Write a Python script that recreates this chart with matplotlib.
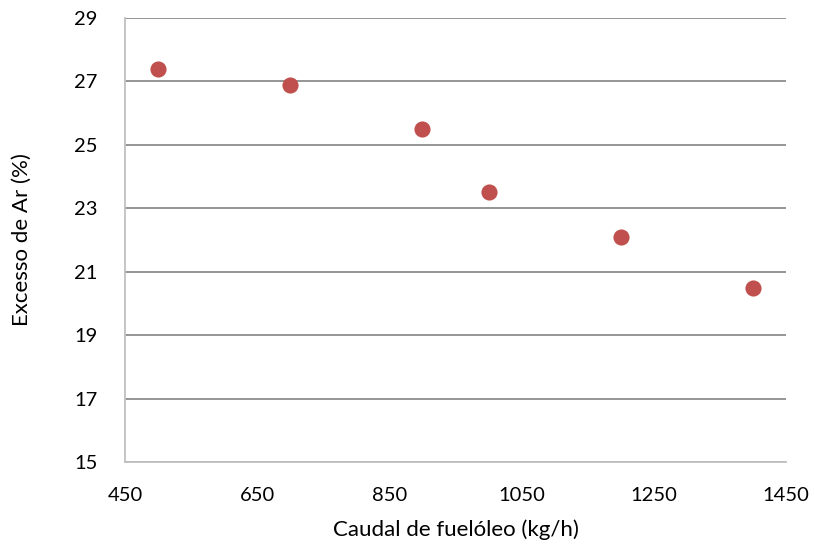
import matplotlib.pyplot as plt

plt.rcParams['font.family'] = ['Lato', 'DejaVu Sans']

# caudal de fuelóleo (kg/h) e excesso de ar (%)
caudal = [500, 700, 900, 1000, 1200, 1400]
excesso = [27.4, 26.9, 25.5, 23.5, 22.1, 20.5]

x_ticks = [450, 650, 850, 1050, 1250, 1450]
y_ticks = [15, 17, 19, 21, 23, 25, 27, 29]

fig = plt.figure(figsize=(8.14, 5.49), dpi=100)
ax = fig.add_axes([0.1536, 0.1585, 0.812, 0.8087])

ax.scatter(caudal, excesso, s=135, color='#C0504D', zorder=3, linewidths=0)

ax.set_xlim(450, 1450)
ax.set_ylim(15, 29)
ax.set_xticks(x_ticks)
ax.set_yticks(y_ticks)
ax.tick_params(length=0, labelsize=14.5)
ax.tick_params(axis='y', pad=20)
ax.tick_params(axis='x', pad=18)

# grelha horizontal
ax.yaxis.grid(True, color='#8c8c8c', linewidth=1.3)
ax.set_axisbelow(True)
for side in ['top', 'right']:
    ax.spines[side].set_visible(False)
for side in ['left', 'bottom']:
    ax.spines[side].set_color('#c0c0c0')
    ax.spines[side].set_linewidth(1.3)

ax.set_xlabel('Caudal de fuelóleo (kg/h)', fontsize=16, labelpad=11)
ax.set_ylabel('Excesso de Ar (%)', fontsize=16, labelpad=30)

fig.savefig('out.png', dpi=100)
